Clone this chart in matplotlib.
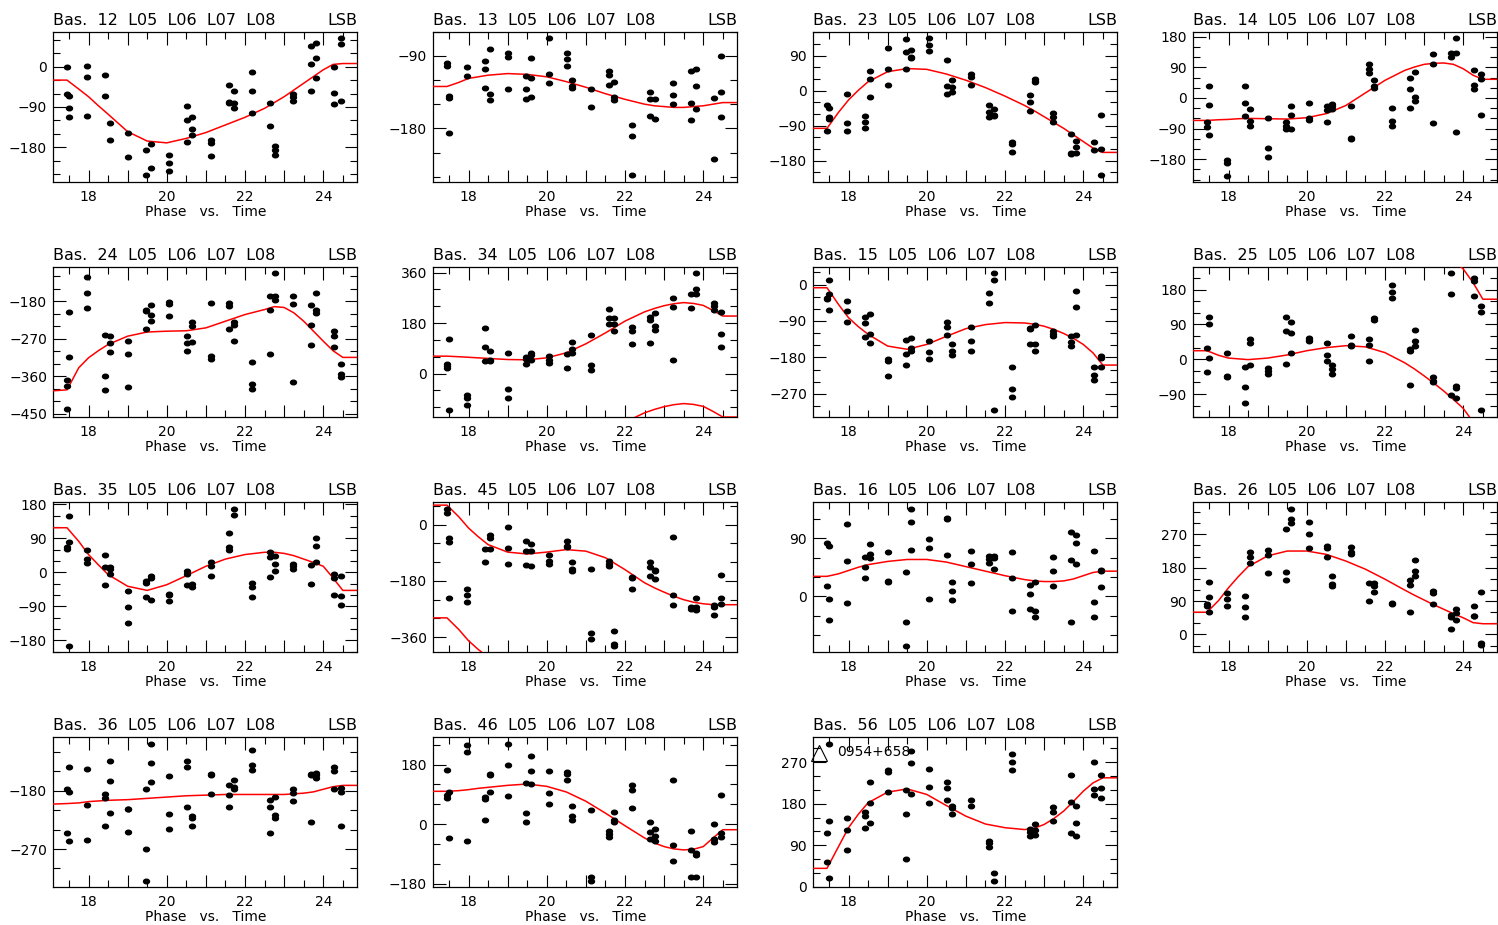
import numpy as np
import matplotlib
matplotlib.use("Agg")
import matplotlib.pyplot as plt
from matplotlib.markers import MarkerStyle
from matplotlib.transforms import Affine2D
from matplotlib.ticker import MultipleLocator, FuncFormatter

# scan times (hours), shared by all baselines
SCAN_T = [17.44, 17.50, 17.96, 18.43, 18.56, 19.01, 19.47, 19.60, 20.06, 20.53, 20.65,
          21.12, 21.58, 21.71, 22.18, 22.63, 22.76, 23.22, 23.69, 23.82, 24.27, 24.46]

# times at which the fitted phase curve is tabulated
FIT_T = [17.0, 17.45, 17.75, 18.0, 18.25, 18.5, 19.0, 19.5, 20.0, 20.5, 21.0, 21.5,
         22.0, 22.5, 22.75, 23.0, 23.25, 23.5, 23.75, 24.0, 24.25, 24.5, 25.0]

BASELINES = ['12', '13', '23', '14', '24', '34', '15', '25', '35', '45', '16', '26', '36', '46', '56']

# measured phases (deg), one group per scan
B12 = [[0, -61], [-65, -93, -112], [2, -24, -110], [-19, -65], [-126, -164], [-149, -202],
       [-186, -242], [-173, -225], [-198, -214, -233], [-88, -119, -167], [-112, -138, -153],
       [-164, -170, -199], [-41, -78, -80], [-54, -80, -93], [-11, -54, -104], [-80, -132],
       [-176, -187, -196], [-60, -67, -76], [45, 7, -54], [52, 19, -26], [0, -58, -83], [63, 51, -76]]
B13 = [[-99, -102], [-140, -142, -186], [-104, -115], [-97, -106, -130], [-81, -137, -145],
       [-86, -91, -131], [-115, -131, -143], [-93, -118, -141], [-68, -112, -124], [-87, -94, -102],
       [-120, -127, -130], [-131, -154], [-109, -114, -126], [-122, -141, -145], [-176, -190, -238],
       [-135, -143, -165], [-143, -168], [-124, -138, -150], [-109, -148, -170], [-106, -127, -156],
       [-142, -218], [-90, -135, -166]]
B23 = [[-37, -103], [-45, -69, -74], [-9, -84, -103], [-65, -81, -95], [51, 30, -17], [111, 56, 15],
       [132, 100, 56], [105, 87, 85], [136, 117, 102], [79, 12, -9], [27, 9, -3], [43, 36, 15],
       [-37, -54, -67], [-46, -63, -65], [-131, -137, -159], [-10, -28, -52], [31, 26, 23],
       [-58, -67, -81], [-111, -161, -164], [-129, -144, -161], [-133, -154], [-62, -151, -217]]
B14 = [[-70, -85], [36, -20, -110], [-182, -191, -228], [35, -14, -52], [-33, -68, -83],
       [-59, -147, -174], [-71, -82, -92], [-23, -51, -92], [-14, -59, -66], [-25, -36, -71],
       [-17, -24, -31], [-25, -118, -120], [101, 86, 74], [52, 34, 30], [-29, -68, -83], [60, 27, -29],
       [77, 3, -10], [128, 101, -74], [131, 121], [175, 132, -100], [81, 39, 25], [70, 57, -49]]
B24 = [[-370, -384, -440], [-206, -315], [-122, -160, -196], [-262, -359, -394], [-263, -280, -303],
       [-276, -308, -387], [-200, -204, -247], [-188, -212, -228], [-182, -186, -216], [-264, -280, -299],
       [-230, -240, -279], [-184, -312, -320], [-184, -192, -246], [-230, -236, -275], [-327, -380, -391],
       [-168, -202, -306], [-112, -168, -176], [-168, -186, -374], [-188, -238, -286], [-160, -202, -209],
       [-252, -264, -291], [-332, -356, -363]]
B34 = [[35, 26, 20], [122, -131], [-75, -87, -111], [163, 94, 44], [80, 50, 44], [74, -55, -87],
       [58, 51, 35], [74, 66, 49], [62, 50, 38], [70, 20], [113, 88, 74], [136, 30, 11],
       [229, 199, 178], [197, 178, 151], [166, 151, 104], [201, 190, 110], [217, 169, 154],
       [271, 237, 50], [283, 232], [360, 300, 285], [253, 241, 225], [220, 142, 94]]
B15 = [[-33, -37], [12, -23, -62], [-41, -66, -92], [-81, -95, -130], [-74, -122, -144],
       [-184, -189, -226], [-136, -171, -199], [-132, -156, -163], [-140, -167, -183], [-92, -105, -125],
       [-148, -163, -173], [-105, -140, -165], [-21, -45], [29, 12, -310], [-203, -258, -278],
       [-107, -111, -147], [-101, -147, -163], [-114, -123, -126], [-128, -142, -151], [-15, -56, -125],
       [-204, -224, -235], [-177, -181, -204]]
B25 = [[28, -32], [110, 91, 4], [17, -43, -47], [-20, -73, -112], [52, 41, -16], [-23, -30, -37],
       [108, 73, -13], [95, 69, 16], [56, 49, 46], [43, 10, -4], [-16, -26, -37], [59, 36, 33],
       [52, 37, -4], [106, 101], [192, 173, 157], [26, 22, -66], [76, 47, 35], [-47, -56, -60],
       [222, 168, -92], [-69, -75, -101], [211, 201, 164], [138, 121, -131]]
B35 = [[67, 62], [150, 80, -195], [58, 34, 25], [47, 14, -35], [13, 9, -4], [-50, -93, -134],
       [-24, -28, -65], [-9, -15, -73], [-57, -59, -75], [3, -4, -35], [-30, -39], [27, 16, -9],
       [104, 67, 60], [168, 153], [-28, -39, -66], [53, 41, -13], [44, 23, 4], [22, 16, 9],
       [19, -31], [91, 69, 27], [-4, -15, -59], [-11, -64, -86]]
B45 = [[50, 37], [-43, -56, -234], [-206, -224, -247], [-78, -120], [-32, -43, -78], [-7, -75, -125],
       [-51, -83, -128], [-61, -83, -133], [-96, -117, -125], [-51, -67, -71], [-119, -142, -147],
       [-142, -346, -365], [-117, -126, -133], [-339, -380, -387], [-168, -170, -206], [-120, -135, -163],
       [-146, -149, -174], [-40, -226, -256], [-264, -269], [-236, -263, -274], [-256, -264, -288],
       [-160, -236, -253]]
B16 = [[83, 16], [78, -4, -36], [111, 55, -10], [61, 45, 28], [81, 66, 59], [68, 24, 22],
       [37, -40, -76], [135, 114, 72], [88, 75, -4], [121, 119, 64], [22, 8, -6], [70, 50, 20],
       [63, 58, 52], [63, 59, 43], [69, 29, -22], [18, 4, -20], [23, -22, -31], [61, 39, 16],
       [99, 56, -40], [94, 82, 50], [70, -9, -32], [41, 39, 14]]
B26 = [[83, 78], [141, 102, 60], [113, 96, 78], [105, 75, 47], [222, 210, 192], [227, 213, 167],
       [284, 168, 146], [339, 311, 300], [302, 272, 232], [239, 234, 210], [159, 137, 132],
       [237, 222, 216], [140, 90], [138, 131, 115], [84, 81], [146, 133, 60], [201, 171, 158],
       [117, 111, 81], [52, 48, 16], [69, 59, 38], [77, 50, 51], [115, -23, -29]]
B36 = [[-177, -246], [-143, -182, -257], [-147, -202, -256], [-185, -192, -234], [-135, -165, -214],
       [-208, -209, -244], [-178, -270, -320], [-108, -138, -167], [-158, -216, -239], [-135, -144, -206],
       [-219, -222, -234], [-154, -156, -185], [-172, -187, -206], [-163, -175, -177], [-118, -140, -149],
       [-194, -206, -245], [-190, -218, -223], [-178, -184, -196], [-154, -156, -229], [-153, -156, -160],
       [-144, -150, -177], [-176, -182, -234]]
B46 = [[164, 87, 79], [97, -42], [240, 218, -52], [81, 76, 11], [152, 147, 97], [242, 177, 84],
       [124, 33, 5], [205, 161, 121], [159, 94, 62], [156, 151, 134], [55, 25, 13], [43, -161, -173],
       [-22, -29, -39], [35, 13, 6], [117, 104, 50], [5, -25, -45], [-14, -35, -50], [134, -63, -113],
       [-22, -78, -161], [-86, -93, -161], [1, -45, -55], [89, -27, -40]]
B56 = [[116, 53], [310, 142, 19], [149, 124, 79], [162, 153, 128], [227, 182, 139], [252, 249, 205],
       [209, 158, 61], [294, 267, 202], [256, 217, 182], [227, 214, 188], [176, 170, 157], [187, 176],
       [100, 94, 86], [30, 12], [288, 270, 252], [126, 118, 111], [135, 122, 113], [173, 162, 142],
       [243, 183, 116], [175, 139, 110], [270, 211, 199], [243, 214, 193]]

# fitted phase curves (deg) at FIT_T
FIT12 = [-30, -30, -50, -67, -87, -106, -145, -166, -170, -160, -147, -130, -113, -93, -80, -67, -52, -37, -22, -7, 5, 7, 7]
FIT13 = [-128, -128, -123, -118, -116, -114, -112, -113, -116, -122, -129, -137, -144, -150, -152, -153, -154, -154, -153, -152, -150, -148, -148]
FIT23 = [-97, -97, -55, -24, 1, 23, 49, 57, 55, 43, 27, 8, -14, -38, -52, -67, -82, -97, -114, -131, -148, -159, -159]
FIT14 = [-66, -66, -64, -63, -61, -60, -61, -62, -58, -46, -22, 15, 52, 81, 91, 99, 102, 103, 99, 86, 67, 55, 55]
FIT24 = [-396, -393, -340, -316, -299, -284, -264, -254, -252, -251, -244, -228, -212, -200, -193, -195, -208, -228, -252, -276, -299, -315, -315]
FIT34 = [62, 62, 60, 58, 56, 54, 50, 49, 56, 74, 106, 145, 187, 220, 232, 242, 249, 253, 250, 243, 225, 205, 205]
FIT15 = [-8, -8, -50, -82, -104, -123, -152, -160, -148, -128, -109, -99, -94, -95, -98, -103, -111, -121, -133, -148, -169, -199, -199]
FIT25 = [22, 22, 10, 3, 1, -1, 3, 11, 22, 30, 35, 32, 17, -9, -25, -43, -62, -82, -104, -127, -162, -205, -205]
FIT35 = [118, 118, 82, 47, 20, -6, -37, -48, -33, -9, 16, 35, 47, 53, 53, 50, 44, 35, 26, 16, -15, -48, -48]
FIT45 = [62, 62, 25, -11, -39, -64, -88, -94, -88, -80, -85, -106, -144, -186, -202, -216, -229, -240, -248, -253, -256, -256, -256]
FIT16 = [31, 31, 35, 40, 45, 49, 54, 57, 57, 53, 46, 39, 32, 26, 24, 23, 23, 24, 27, 32, 37, 39, 39]
FIT26 = [60, 60, 92, 126, 156, 183, 212, 225, 225, 216, 198, 176, 149, 120, 106, 93, 80, 68, 56, 45, 32, 29, 29]
FIT36 = [-201, -200, -199, -197, -196, -195, -194, -192, -190, -188, -187, -186, -186, -186, -186, -186, -185, -184, -182, -178, -174, -172, -172]
FIT46 = [99, 99, 101, 104, 108, 111, 117, 121, 114, 97, 69, 33, -5, -42, -57, -68, -75, -78, -76, -68, -42, -17, -17]
FIT56 = [40, 40, 88, 128, 157, 182, 205, 212, 200, 176, 153, 136, 128, 124, 127, 135, 148, 164, 185, 207, 225, 236, 236]

YLIMS = [(-258, 78), (-247, -60), (-236, 152), (-248, 195),
         (-459, -97), (-156, 381), (-328, 44), (-150, 239),
         (-212, 187), (-408, 73), (-86, 146), (-48, 358),
         (-329, -97), (-191, 264), (-1, 325)]
YSTEP = [90, 90, 90, 90, 90, 180, 90, 90, 90, 180, 90, 90, 90, 180, 90]

PHASES = [B12, B13, B23, B14, B24, B34, B15, B25, B35, B45, B16, B26, B36, B46, B56]
FITS = [FIT12, FIT13, FIT23, FIT14, FIT24, FIT34, FIT15, FIT25, FIT35, FIT45, FIT16, FIT26, FIT36, FIT46, FIT56]

plt.rcParams['font.family'] = 'DejaVu Sans'
W, H = 1498, 925
fig = plt.figure(figsize=(W / 100, H / 100), dpi=100)

dot = MarkerStyle('o', transform=Affine2D().scale(1.3, 1.0))
even_hours = FuncFormatter(lambda v, p: f"{v:.0f}" if round(v) % 2 == 0 else "")

for i, bas in enumerate(BASELINES):
    row, col = divmod(i, 4)
    left = 53.3 + 380 * col
    top = 31.7 + 235 * row
    ax = fig.add_axes([left / W, 1 - (top + 150.6) / H, 304 / W, 150.6 / H])

    # fit curve, repeated one turn up and down so wrapped parts show
    fit = np.array(FITS[i], dtype=float)
    for turn in (-360, 0, 360):
        ax.plot(FIT_T, fit + turn, color='#ff0000', lw=1.1, zorder=3)

    xs = [t for t, grp in zip(SCAN_T, PHASES[i]) for _ in grp]
    ys = [v for grp in PHASES[i] for v in grp]
    ax.plot(xs, ys, ls='none', marker=dot, ms=3.3, color='black', zorder=4)

    ax.set_xlim(17.1, 24.87)
    ax.set_ylim(*YLIMS[i])
    ax.xaxis.set_major_locator(MultipleLocator(1))
    ax.xaxis.set_minor_locator(MultipleLocator(0.5))
    ax.xaxis.set_major_formatter(even_hours)
    ax.yaxis.set_major_locator(MultipleLocator(YSTEP[i]))
    ax.yaxis.set_minor_locator(MultipleLocator(YSTEP[i] / 3))
    ax.tick_params(which='both', direction='in', top=True, right=True, width=0.8, colors='black')
    ax.tick_params(which='major', length=9, labelsize=10)
    ax.tick_params(axis='x', which='major', pad=5.5)
    ax.tick_params(axis='y', which='major', pad=4.5)
    ax.tick_params(which='minor', length=5)
    for sp in ax.spines.values():
        sp.set_linewidth(0.9)

    ax.set_xlabel("Phase   vs.   Time", fontsize=10, labelpad=1)
    ax.set_title(f"Bas.  {bas}  L05  L06  L07  L08", loc='left', fontsize=11.5, pad=5)
    ax.set_title("LSB", loc='right', fontsize=11.5, pad=5)

    if bas == '56':
        # source name with an open triangle symbol
        ax.plot([0.02], [0.895], transform=ax.transAxes, marker='^', ms=11,
                mfc='none', mec='black', mew=0.8, clip_on=False, zorder=5)
        ax.text(0.077, 0.899, "0954+658", transform=ax.transAxes,
                fontsize=10, va='center', ha='left')

fig.savefig("out.png", dpi=100)
